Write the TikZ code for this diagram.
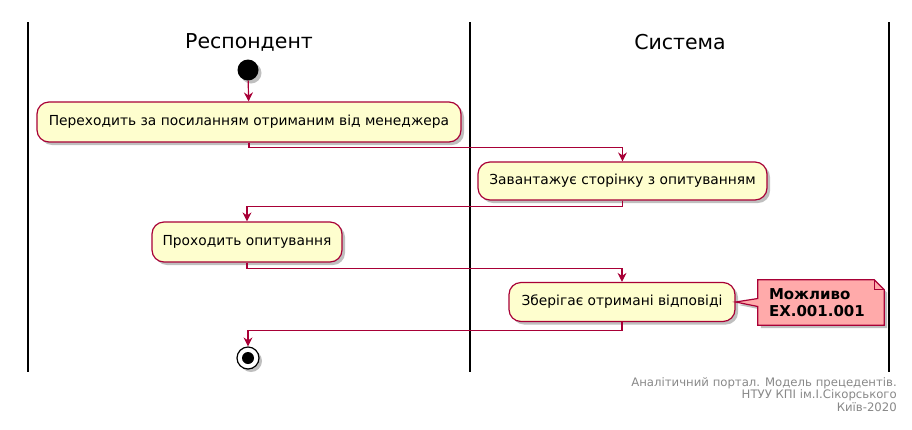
\documentclass[tikz,border=0pt]{standalone}
\usepackage{fontspec}
\setmainfont{DejaVu Sans}
\usetikzlibrary{arrows.meta,positioning,shadows}
\definecolor{umlred}{HTML}{A80036}
\definecolor{actfill}{HTML}{FEFECE}
\definecolor{notefill}{HTML}{FFAAAA}
\definecolor{foot}{HTML}{888888}
\tikzset{
  shade/.style={drop shadow={shadow xshift=3pt,shadow yshift=-3pt,fill=black,opacity=0.25}},
  act/.style={draw=umlred,line width=1.2pt,rounded corners=12pt,fill=actfill,align=center,font=\fontsize{13.8}{16}\selectfont,inner xsep=0pt,shade},
  lane/.style={draw=black,line width=1.8pt},
  lanetitle/.style={font=\fontsize{20.5}{22}\selectfont},
  flow/.style={-{Stealth[length=9pt,width=9pt,inset=3pt]},draw=umlred,line width=1.2pt},
  startdot/.style={circle,fill=black,minimum size=21pt,inner sep=0pt,shade},
  stopdot/.style={circle,draw=black,line width=1.2pt,fill=white,minimum size=22pt,inner sep=0pt,shade},
  notetext/.style={font=\fontsize{15}{17}\selectfont\bfseries,align=left,text width=108pt,inner sep=0pt},
  footnote/.style={font=\fontsize{11.7}{12.6}\selectfont,text=foot,align=right,anchor=north east,inner sep=0pt}
}

\begin{document}
\begin{tikzpicture}[x=1pt,y=-1pt]
  \useasboundingbox (0,0) rectangle (912,429);
  % swimlanes
  \draw[lane] (28,22) -- (28,372);
  \draw[lane] (470,22) -- (470,372);
  \draw[lane] (889,22) -- (889,372);
  \node[lanetitle] (resp) at (249,42) {Респондент};
  \node[lanetitle] (sys) at (680,42) {Система};

  \node[startdot] (start) at (248,70) {};
  \node[act,minimum width=424pt,minimum height=40pt] (go) at (249,122) {Переходить за посиланням отриманим від менеджера};
  \node[act,minimum width=289pt,minimum height=38pt] (load) at (622.5,181) {Завантажує сторінку з опитуванням};
  \node[act,minimum width=190pt,minimum height=40pt] (pass) at (247,242) {Проходить опитування};
  \node[act,minimum width=226pt,minimum height=39pt] (save) at (622,302) {Зберігає отримані відповіді};
  \node[stopdot] (stop) at (248,358) {};
  \fill (stop) circle (6pt);

  % note
  \node[minimum width=126pt,minimum height=45pt,inner sep=0pt] (note) at (821,302.5) {};
  \draw[draw=umlred,fill=notefill,line width=1.2pt,shade]
    (note.north west) -- ([xshift=-10pt]note.north east) -- ([yshift=-10pt]note.north east)
    -- (note.south east) -- (note.south west) -- ([yshift=-4pt]note.west)
    -- (save.east) -- ([yshift=4pt]note.west) -- cycle;
  \draw[umlred,line width=1.2pt] ([xshift=-10pt]note.north east) -- ([xshift=-10pt,yshift=-10pt]note.north east) -- ([yshift=-10pt]note.north east);
  \node[notetext] (notetxt) at ([xshift=2pt]note) {Можливо\\EX.001.001};

  \draw[flow] (start) -- (go);
  \draw[flow] (go.south) -- ++(0,5) -| (load.north);
  \draw[flow] (load.south) -- ++(0,6) -| (pass.north);
  \draw[flow] (pass.south) -- ++(0,6) -| (save.north);
  \draw[flow] (save.south) -- ++(0,8) -| (stop.north);

  \node[footnote] (foot) at (897,377) {Аналітичний портал. Модель прецедентів.\\НТУУ КПІ ім.І.Сікорського\\Київ-2020};
\end{tikzpicture}
\end{document}
